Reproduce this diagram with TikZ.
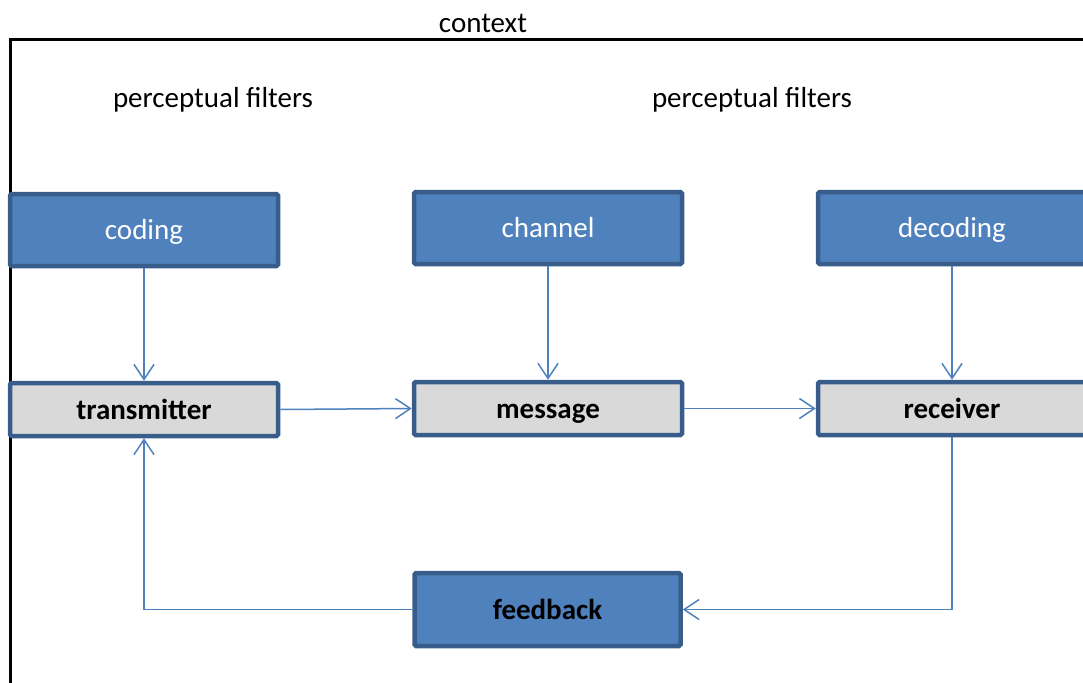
\documentclass[tikz,border=0pt]{standalone}
\usepackage{fontspec}
\setmainfont{Carlito}
\usetikzlibrary{arrows.meta}
\definecolor{boxblue}{HTML}{4F81BD}
\definecolor{boxedge}{HTML}{385D8A}
\definecolor{boxgray}{HTML}{D9D9D9}
\tikzset{
  lbl/.style={font=\fontsize{29}{35}\selectfont, inner sep=0pt},
  boxbase/.style={draw=boxedge, line width=4.5pt, rounded corners=1.5pt,
    inner sep=0pt, text height=23pt, text depth=4pt},
  bluebox/.style={boxbase, fill=boxblue,
    minimum width=268pt, minimum height=72pt,
    font=\fontsize{29}{35}\selectfont, text=white},
  graybox/.style={boxbase, fill=boxgray,
    minimum width=268pt, minimum height=53pt,
    font=\fontsize{29}{35}\selectfont\bfseries, text=black},
  conn/.style={draw=boxblue, line width=1.5pt, -{Straight Barb[length=15pt,width=20pt,line width=1.5pt]}}
}
\begin{document}
\begin{tikzpicture}[x=1pt,y=-1pt]
\useasboundingbox (0,0) rectangle (1083,682);
\clip (0,0) rectangle (1083,682);
% context frame
\draw[line width=3pt] (10,800) -- (10,40) -- (1200,40);
\node[lbl] (ctx) at (483,23) {context};
\node[lbl] (pf1) at (213,100) {perceptual filters};
\node[lbl] (pf2) at (752,100) {perceptual filters};
% top row
\node[bluebox] (coding) at (144,230) {coding};
\node[bluebox] (channel) at (548,228) {channel};
\node[bluebox] (decoding) at (952,228) {decoding};
% middle row
\node[graybox] (trans) at (144,409.5) {transmitter};
\node[graybox] (msg) at (548,408.5) {message};
\node[graybox] (recv) at (952,408.5) {receiver};
% feedback
\node[bluebox, minimum width=266pt, minimum height=73pt, text=black, font=\fontsize{29}{35}\selectfont\bfseries] (fb) at (547.5,609.5) {feedback};
% connectors
\draw[conn] (coding.south) -- (trans.north);
\draw[conn] (channel.south) -- (msg.north);
\draw[conn] (decoding.south) -- (recv.north);
\draw[conn] (trans.east) -- (msg.west);
\draw[conn] (msg.east) -- (recv.west);
\draw[conn] (recv.south) |- (fb.east);
\draw[conn] (fb.west) -| (trans.south);
\end{tikzpicture}
\end{document}
